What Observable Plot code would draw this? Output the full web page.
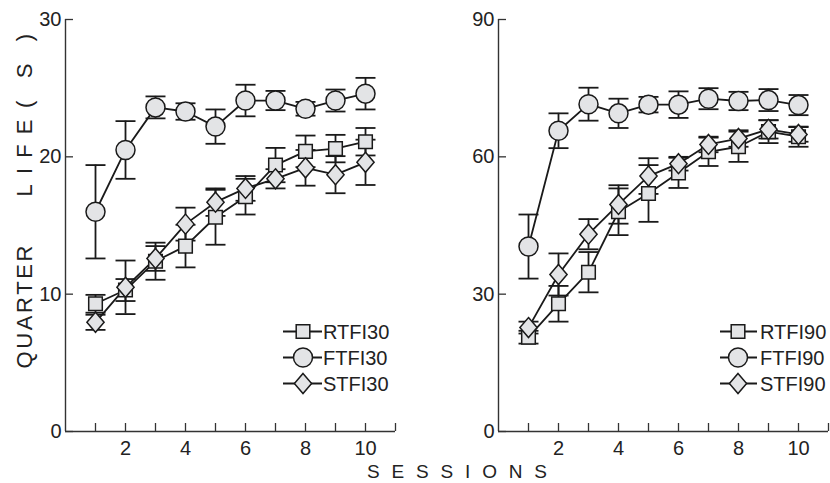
<!DOCTYPE html>
<html>
<head>
<meta charset="utf-8">
<script src="https://cdn.jsdelivr.net/npm/d3@7"></script>
<script src="https://cdn.jsdelivr.net/npm/@observablehq/plot@0.6"></script>
<style>
  body { margin: 0; background: #fff; }
  #chart { position: relative; width: 830px; height: 483px; font-family: "Liberation Sans", Arial, sans-serif; color: #222; }
  #chart svg { position: absolute; top: 0; overflow: visible; }
</style>
</head>
<body>
<div id="chart"></div>
<script>
// ---- data ----
const sessions = [1, 2, 3, 4, 5, 6, 7, 8, 9, 10];

const rtfi30    = [9.3, 10.3, 12.4, 13.5, 15.6, 17.1, 19.4, 20.4, 20.6, 21.1];
const rtfi30Err = [0.65, 0.8, 1.35, 1.55, 2.0, 1.3, 1.25, 1.15, 1.0, 1.0];
const ftfi30    = [16.0, 20.5, 23.6, 23.3, 22.2, 24.1, 24.1, 23.5, 24.1, 24.6];
const ftfi30Err = [3.4, 2.1, 0.8, 0.6, 1.25, 1.15, 0.7, 0.5, 0.8, 1.15];
const stfi30    = [7.95, 10.5, 12.6, 15.1, 16.7, 17.7, 18.4, 19.2, 18.7, 19.6];
const stfi30Err = [0.55, 1.95, 0.9, 1.2, 1.0, 0.9, 0.7, 1.3, 1.35, 1.65];

const rtfi90    = [20.6, 27.9, 34.8, 48.0, 52.0, 56.5, 61.1, 62.2, 65.5, 64.4];
const rtfi90Err = [1.4, 3.9, 4.4, 5.1, 6.2, 3.3, 3.1, 3.3, 2.5, 2.2];
const ftfi90    = [40.4, 65.7, 71.5, 69.5, 71.4, 71.4, 72.7, 72.2, 72.4, 71.3];
const ftfi90Err = [7.0, 3.8, 3.6, 3.2, 1.7, 2.9, 2.3, 2.0, 2.4, 2.2];
const stfi90    = [22.7, 34.3, 43.1, 49.6, 55.8, 58.5, 62.7, 64.0, 66.0, 64.9];
const stfi90Err = [1.3, 4.6, 3.3, 4.2, 3.9, 1.5, 1.7, 1.8, 2.0, 1.6];

const xTickValues = [1, 2, 3, 4, 5, 6, 7, 8, 9, 10, 11];
const xTickLabels = [2, 4, 6, 8, 10];
const yTicksLeft  = [0, 10, 20, 30];
const yTicksRight = [0, 30, 60, 90];
const namesLeft   = ["RTFI30", "FTFI30", "STFI30"];
const namesRight  = ["RTFI90", "FTFI90", "STFI90"];
const yLabelWords = ["QUARTER", "LIFE", "(S)"];
const xLabelText  = "SESSIONS";

// ---- helpers ----
function rows(name, vals, errs) {
  return sessions.map((s, i) => ({ series: name, s, v: vals[i], e: errs[i] }));
}
const mkSym = fn => ({ draw(ctx, size) { const r = Math.sqrt(size / Math.PI); fn(ctx, r); } });
const squareSym  = mkSym((c, r) => { c.moveTo(-r, -r); c.lineTo(r, -r); c.lineTo(r, r); c.lineTo(-r, r); c.closePath(); });
const diamondSym = mkSym((c, r) => { const w = r * 0.86; c.moveTo(0, -r); c.lineTo(w, 0); c.lineTo(0, r); c.lineTo(-w, 0); c.closePath(); });
const capSym     = mkSym((c, r) => { c.moveTo(-r, 0); c.lineTo(r, 0); });
const circleSym  = d3.symbolCircle;

const markerStyles = [
  { sym: squareSym, r: 6.8 },
  { sym: circleSym, r: 9.5 },
  { sym: diamondSym, r: 10 }
];
const INK = "#1a1a1a";
const FILL = "#e3e4e6";

function panel(series, yDomain, yTicks, opts) {
  const all = series.flat();
  const marks = [
    Plot.ruleY([yDomain[0]], { stroke: "#333", strokeWidth: 1.4 }),
    Plot.ruleX([0], { stroke: "#333", strokeWidth: 1.4 }),
    Plot.axisY(yTicks, { tickSize: -8, tickPadding: 12, fontSize: 20, label: null, stroke: "#333", strokeWidth: 1.3 }),
    Plot.axisX(xTickValues, { tickSize: -8, text: null, label: null, stroke: "#333", strokeWidth: 1.3 }),
    Plot.axisX(xTickLabels, { tickSize: 0, tickPadding: 9, fontSize: 20, label: null }),
    // error bars
    Plot.ruleX(all, { x: "s", y1: d => d.v - d.e, y2: d => d.v + d.e, stroke: INK, strokeWidth: 1.8 }),
    Plot.dot(all, { x: "s", y: d => d.v + d.e, symbol: capSym, r: 10, fill: "none", stroke: INK, strokeWidth: 1.8 }),
    Plot.dot(all, { x: "s", y: d => d.v - d.e, symbol: capSym, r: 10, fill: "none", stroke: INK, strokeWidth: 1.8 }),
    // lines
    Plot.line(all, { x: "s", y: "v", z: "series", stroke: INK, strokeWidth: 1.8 })
  ];
  series.forEach((data, i) => {
    marks.push(Plot.dot(data, { x: "s", y: "v", symbol: markerStyles[i].sym, r: markerStyles[i].r,
      fill: FILL, stroke: INK, strokeWidth: 1.5 }));
  });
  return Plot.plot({
    width: 415, height: 460,
    marginTop: 19, marginBottom: 29,
    marginLeft: opts.marginLeft, marginRight: opts.marginRight,
    x: { domain: [0, 11] },
    y: { domain: yDomain },
    style: { fontFamily: '"Liberation Sans", Arial, sans-serif', color: "#222", background: "transparent", overflow: "visible" },
    marks
  });
}

const chart = document.getElementById("chart");

const left = panel(
  [rows(namesLeft[0], rtfi30, rtfi30Err), rows(namesLeft[1], ftfi30, ftfi30Err), rows(namesLeft[2], stfi30, stfi30Err)],
  [0, 30], yTicksLeft, { marginLeft: 65, marginRight: 20 });
left.style.left = "0px";
chart.appendChild(left);

const right = panel(
  [rows(namesRight[0], rtfi90, rtfi90Err), rows(namesRight[1], ftfi90, ftfi90Err), rows(namesRight[2], stfi90, stfi90Err)],
  [0, 90], yTicksRight, { marginLeft: 83, marginRight: 2 });
right.style.left = "415px";
chart.appendChild(right);

// ---- overlay: legends and axis titles ----
const ov = d3.select(chart).append("svg")
  .attr("width", 830).attr("height", 483)
  .style("left", "0px")
  .attr("font-family", '"Liberation Sans", Arial, sans-serif')
  .attr("fill", "#222");

function symPath(sym, r) { const p = d3.path(); sym.draw(p, Math.PI * r * r); return p.toString(); }

function legend(names, x0, x1, mx, tx, rowsY) {
  names.forEach((name, i) => {
    const y = rowsY[i];
    ov.append("line").attr("x1", x0).attr("x2", x1).attr("y1", y).attr("y2", y)
      .attr("stroke", INK).attr("stroke-width", 1.8);
    ov.append("path").attr("d", symPath(markerStyles[i].sym, markerStyles[i].r))
      .attr("transform", `translate(${mx},${y})`)
      .attr("fill", FILL).attr("stroke", INK).attr("stroke-width", 1.5);
    ov.append("text").attr("x", tx).attr("y", y).attr("dy", "0.36em")
      .attr("font-size", 20).text(name);
  });
}
legend(namesLeft, 283, 322, 303, 323, [331.5, 357.5, 383.5]);
legend(namesRight, 720, 757, 738, 760, [331.5, 357.5, 383.5]);

// y-axis title (rotated, reading upward)
const yWordCenters = [307, 158, 71];
const yWordLengths = [123, 77, 74];
yLabelWords.forEach((w, i) => {
  ov.append("text")
    .attr("transform", `translate(32,${yWordCenters[i]}) rotate(-90)`)
    .attr("text-anchor", "middle")
    .attr("font-size", 22)
    .attr("textLength", yWordLengths[i])
    .attr("lengthAdjust", "spacing")
    .text(w);
});

// x-axis title
ov.append("text")
  .attr("x", 367).attr("y", 478)
  .attr("font-size", 19)
  .attr("textLength", 180)
  .attr("lengthAdjust", "spacing")
  .text(xLabelText);
</script>
</body>
</html>
